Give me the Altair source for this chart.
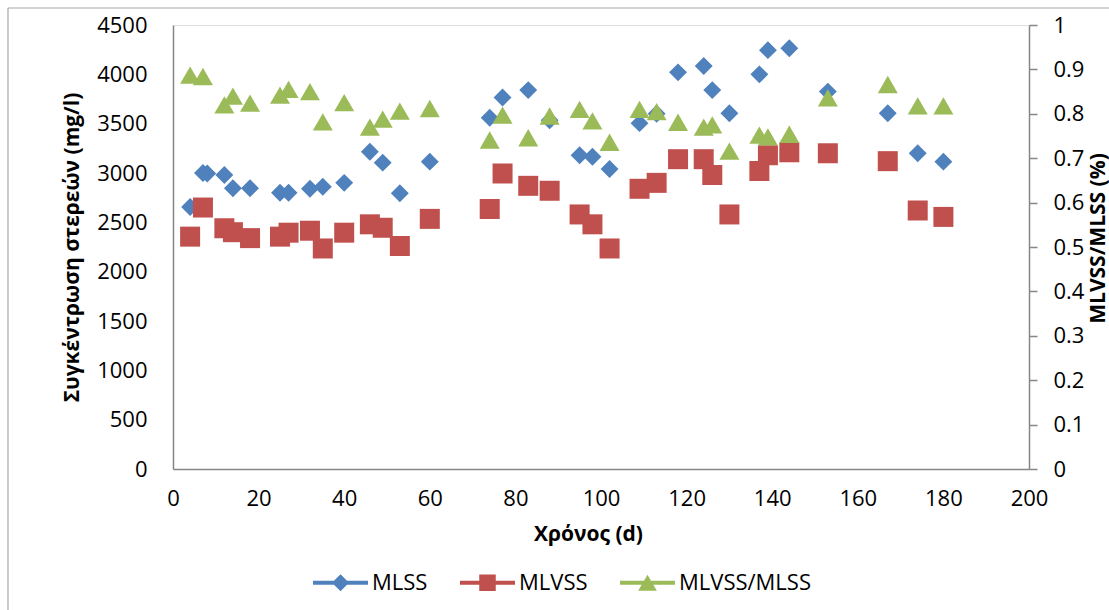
import altair as alt
import pandas as pd

# Sampling days and measured concentrations (mg/l)
mlss_days = [4, 7, 8, 12, 14, 18, 25, 27, 32, 35, 40, 46, 49, 53, 60, 74, 77, 83, 88, 95,
             98, 102, 109, 113, 118, 124, 126, 130, 137, 139, 144, 153, 167, 174, 180]
mlss_values = [2655, 3000, 2995, 2980, 2845, 2845, 2800, 2800, 2840, 2860, 2900, 3215, 3105,
               2795, 3115, 3560, 3765, 3840, 3535, 3180, 3165, 3040, 3505, 3600, 4020, 4085,
               3840, 3605, 4000, 4245, 4265, 3825, 3605, 3200, 3115]

vss_days = [4, 7, 12, 14, 18, 25, 27, 32, 35, 40, 46, 49, 53, 60, 74, 77, 83, 88, 95,
            98, 102, 109, 113, 118, 124, 126, 130, 137, 139, 144, 153, 167, 174, 180]
mlvss_values = [2355, 2650, 2440, 2400, 2340, 2355, 2395, 2415, 2235, 2395, 2480, 2445, 2260,
                2535, 2635, 2995, 2870, 2820, 2580, 2480, 2235, 2840, 2900, 3140, 3140, 2980,
                2580, 3020, 3180, 3210, 3200, 3120, 2620, 2555]
ratio_values = [0.887, 0.884, 0.820, 0.840, 0.824, 0.842, 0.855, 0.850, 0.782, 0.825, 0.770,
                0.788, 0.806, 0.812, 0.741, 0.797, 0.746, 0.795, 0.810, 0.784, 0.736, 0.810,
                0.805, 0.781, 0.770, 0.775, 0.716, 0.752, 0.748, 0.754, 0.836, 0.866, 0.818,
                0.818]

series_names = ["MLSS", "MLVSS", "MLVSS/MLSS"]
series_colors = ["#4F81BD", "#C0504D", "#9BBB59"]

# Legend keys: a short bar with the series marker in the middle
LINE = "M-1,-0.07L1,-0.07L1,0.07L-1,0.07Z"
legend_paths = [
    LINE + "M-0.31,0L0,-0.31L0.31,0L0,0.31Z",
    LINE + "M-0.3,-0.3L0.3,-0.3L0.3,0.3L-0.3,0.3Z",
    LINE + "M0,-0.29L0.34,0.29L-0.34,0.29Z",
]

mlss_df = pd.DataFrame({"day": mlss_days, "value": mlss_values, "series": "MLSS"})
mlvss_df = pd.DataFrame({"day": vss_days, "value": mlvss_values, "series": "MLVSS"})
ratio_df = pd.DataFrame({"day": vss_days, "ratio": ratio_values, "series": "MLVSS/MLSS"})

FONT = "Open Sans"
AXIS_GRAY = "#868686"

x_enc = alt.X(
    "day:Q",
    scale=alt.Scale(domain=[0, 200], nice=False, zero=False),
    axis=alt.Axis(
        values=list(range(0, 201, 20)), format="d", grid=False, ticks=False,
        domainColor=AXIS_GRAY, domainWidth=1.5, labelFont=FONT, labelFontSize=22,
        labelColor="black", labelPadding=19, labelFlush=False, labelOverlap=False,
        title="Χρόνος (d)", titleFont=FONT, titleFontSize=21, titleFontWeight="bold",
        titleColor="black", titleX=415, titleY=65, titleAlign="center",
        titleBaseline="middle",
    ),
)

y_left = alt.Y(
    "value:Q",
    scale=alt.Scale(domain=[0, 4500], nice=False),
    axis=alt.Axis(
        values=list(range(0, 4501, 500)), format="d", grid=False, ticks=False,
        domainColor=AXIS_GRAY, domainWidth=1.5, labelFont=FONT, labelFontSize=22,
        labelColor="black", labelPadding=26, labelFlush=False, labelOverlap=False,
        title="Συγκέντρωση στερεών (mg/l)", titleFont=FONT, titleFontSize=21,
        titleFontWeight="bold", titleColor="black", titleX=-101, titleY=222,
        titleAngle=270, titleAlign="center", titleBaseline="middle",
    ),
)

y_right = alt.Y(
    "ratio:Q",
    scale=alt.Scale(domain=[0, 1], nice=False),
    axis=alt.Axis(
        orient="right", values=[round(i * 0.1, 1) for i in range(11)], format="~g",
        grid=False, ticks=True, tickSize=8, tickColor=AXIS_GRAY, tickWidth=1.5,
        domainColor=AXIS_GRAY, domainWidth=1.5, labelFont=FONT, labelFontSize=22,
        labelColor="black", labelPadding=16, labelAlign="left", labelFlush=False,
        labelOverlap=False, title="MLVSS/MLSS (%)", titleFont=FONT, titleFontSize=21,
        titleFontWeight="bold", titleColor="black", titleX=69, titleY=213,
        titleAngle=270, titleAlign="center", titleBaseline="middle",
    ),
)

# Outer frame of the chart area
frame = alt.Chart(alt.Data(values=[{}]))
frame_top = frame.mark_rule(color="#a6a6a6", strokeWidth=1.2).encode(
    x=alt.value(-165), x2=alt.value(950), y=alt.value(-17)
)
frame_left = frame.mark_rule(color="#a6a6a6", strokeWidth=1.2).encode(
    x=alt.value(-165), y=alt.value(-17), y2=alt.value(600)
)

mlss_pts = alt.Chart(mlss_df).mark_point(
    shape="diamond", filled=True, size=320, opacity=1, color=series_colors[0]
).encode(x=x_enc, y=y_left)

mlvss_pts = alt.Chart(mlvss_df).mark_point(
    shape="square", filled=True, size=400, opacity=1, color=series_colors[1]
).encode(x=x_enc, y=y_left)

legend_cfg = alt.Legend(
    title=None, orient="none", legendX=140, legendY=530, direction="horizontal",
    labelFont=FONT, labelFontSize=22, labelColor="black", symbolSize=3025,
    symbolStrokeWidth=0, symbolOpacity=1, columnPadding=32, labelOffset=4, padding=0,
)

# Carries the legend only; the filter leaves no rows to draw
legend_layer = alt.Chart(mlss_df).transform_filter("datum.day < 0").mark_point(
    filled=True, opacity=1
).encode(
    x=x_enc,
    y=y_left,
    color=alt.Color("series:N", scale=alt.Scale(domain=series_names, range=series_colors),
                    legend=legend_cfg),
    shape=alt.Shape("series:N", scale=alt.Scale(domain=series_names, range=legend_paths),
                    legend=legend_cfg),
)

left = alt.layer(frame_top, frame_left, mlss_pts, mlvss_pts, legend_layer)

ratio_pts = alt.Chart(ratio_df).mark_point(
    shape="triangle-up", filled=True, size=400, opacity=1, color=series_colors[2]
).encode(x=x_enc, y=y_right)

chart = (
    alt.layer(left, ratio_pts)
    .resolve_scale(y="independent")
    .properties(
        width=856, height=444,
        padding={"left": 173, "top": 25, "right": 80, "bottom": 141},
        autosize=alt.AutoSizeParams(type="none"),
        background="white",
    )
    .configure_view(stroke=None)
    .configure(font=FONT)
)

chart.save("out.html", embed_options={"renderer": "svg", "actions": False})
